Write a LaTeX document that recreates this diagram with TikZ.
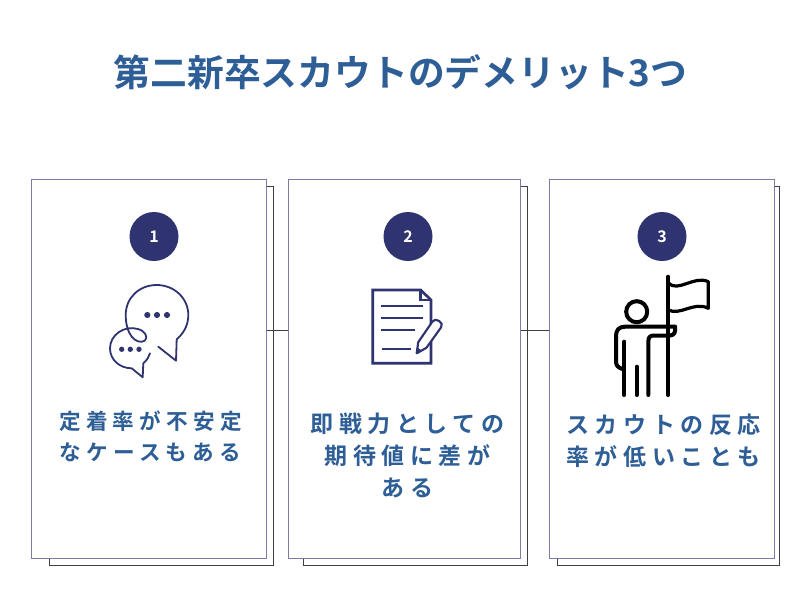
\documentclass[tikz,border=0pt]{standalone}
\usepackage{fontspec}
\setmainfont{Noto Sans CJK JP}[BoldFont={* Bold}]
\newfontfamily\cardfont{Noto Sans CJK JP Bold}[LetterSpace=24]
\definecolor{headblue}{HTML}{2E5E96}
\definecolor{navy}{HTML}{2F3470}
\definecolor{cardline}{HTML}{7C7CA8}
\definecolor{backline}{HTML}{404040}
\begin{document}
\begin{tikzpicture}[x=0.75pt,y=-0.75pt,
      inner sep=0pt,
      card/.style={draw=cardline,fill=white,line width=0.75pt,anchor=north west},
      backcard/.style={draw=backline,fill=white,line width=0.75pt,anchor=north west},
      badge/.style={circle,fill=navy,minimum size=36.75pt,text=white,font=\bfseries\fontsize{12pt}{14pt}\selectfont},
      cardtext/.style={text=headblue,align=center,font=\cardfont\fontsize{17.25pt}{24pt}\selectfont},
      link/.style={draw=backline,line width=0.6pt},
      chat/.style={draw=navy,line width=1.35pt,line cap=round,line join=round},
      note/.style={draw=navy,line width=2pt,line join=miter},
      person/.style={draw=black,line width=3pt,line cap=round,line join=round}]
    \useasboundingbox (0,0) rectangle (812,610);
    \node[text=headblue,font=\bfseries\fontsize{27.6pt}{32pt}\selectfont] (title) at (400.5,72) {第二新卒スカウトのデメリット3つ};
    \node[backcard,minimum width=168pt,minimum height=284.25pt] (back1) at (49,185.5) {};
    \node[backcard,minimum width=168pt,minimum height=284.25pt] (back2) at (303,185.5) {};
    \node[backcard,minimum width=166.5pt,minimum height=284.25pt] (back3) at (557,185.5) {};
    \node[card,minimum width=176.25pt,minimum height=284.25pt] (card1) at (31,178.5) {};
    \node[card,minimum width=173.75pt,minimum height=284.25pt] (card2) at (288,178.5) {};
    \node[card,minimum width=168.5pt,minimum height=284.25pt] (card3) at (549,178.5) {};
    \draw[link] ([yshift=28.5pt]card1.east) -- ([yshift=28.5pt]card2.west);
    \draw[link] ([yshift=28.5pt]card2.east) -- ([yshift=28.5pt]card3.west);
    \node[badge] (badge1) at (154,236.5) {1};
    \node[badge] (badge2) at (408,236.5) {2};
    \node[badge] (badge3) at (662,236.5) {3};
    \node[cardtext,font=\cardfont\fontsize{16.2pt}{23.7pt}\selectfont] (text1) at (150.5,436.5) {定着率が不安定\\なケースもある};
    \node[cardtext] (text2) at (407.5,455) {即戦力としての\\期待値に差が\\ある};
    \node[cardtext] (text3) at (663.5,441) {スカウトの反応\\率が低いことも};
    \draw[chat] (158.3,346.7) -- (176,360.7) -- (176.7,339.3)
      .. controls (184,333) and (188.3,325) .. (188.3,315)
      .. controls (188.3,298) and (174,285) .. (156.7,285)
      .. controls (139,285) and (125.7,298) .. (125.7,315)
      .. controls (125.7,324) and (128,332) .. (131.7,336.7)
      .. controls (135,341) and (141,343.5) .. (145,340.5)
      .. controls (148.5,337) and (145,331) .. (138,329)
      .. controls (124,325) and (110,335) .. (110,348.3)
      .. controls (110,360) and (120,368.3) .. (131.7,368.3)
      -- (142.7,377.3) -- (143.3,363.3) .. controls (147,360) and (149,357) .. (150,353.3);
    \foreach \x in {147.3,157,167} \fill[navy] (\x,315) circle (2.3pt);
    \foreach \x in {121.7,130.3,139} \fill[navy] (\x,349.3) circle (2pt);
    \draw[note] (372.7,290) -- (420.7,290) -- (431,300) -- (431,363.3) -- (372.7,363.3) -- cycle;
    \draw[note] (420.7,290) -- (420.7,300) -- (431,300);
    \draw[note,line width=1.5pt] (380.7,306) -- (422.7,306);
    \draw[note,line width=1.5pt] (380.7,318) -- (422.7,318);
    \draw[note,line width=1.5pt] (380.7,330.3) -- (415,330.3);
    \draw[note,line width=1.5pt] (382.3,348.7) -- (410.7,348.7);
    \draw[note,fill=white,line width=1.6pt,line join=round] (416.7,353.3) -- (418.2,342.2) -- (432.4,321.6)
      .. controls (435,316.5) and (445,323) .. (441,327.5) -- (426.4,347.8) -- cycle;
    \fill[navy] (416.7,353.3) -- (417.4,347.5) -- (421.5,350.3) -- cycle;
    \draw[person] (668.3,276.7) -- (668.3,395);
    \draw[person,line width=2.4pt] (668.3,283)
      .. controls (678,293) and (694,275) .. (708.3,281.7) -- (708.3,308.3)
      .. controls (694,301) and (680,316) .. (668.3,310);
    \draw[person] (636.7,311.7) circle (7.9pt);
    \draw[person] (675,326.7) -- (625,326.7) .. controls (619,326.7) and (616,330) .. (616,336)
      -- (616,362) .. controls (616,366) and (619,368) .. (622.7,369);
    \draw[person] (624.3,341.7) -- (624.3,395);
    \draw[person] (636.7,366.7) -- (636.7,395);
    \draw[person] (648.3,395) -- (648.3,342) .. controls (648.3,337) and (650,335.5) .. (654,335.5)
      -- (670,335.5) .. controls (674,335.5) and (676,332) .. (675,326.7);
\end{tikzpicture}
\end{document}
